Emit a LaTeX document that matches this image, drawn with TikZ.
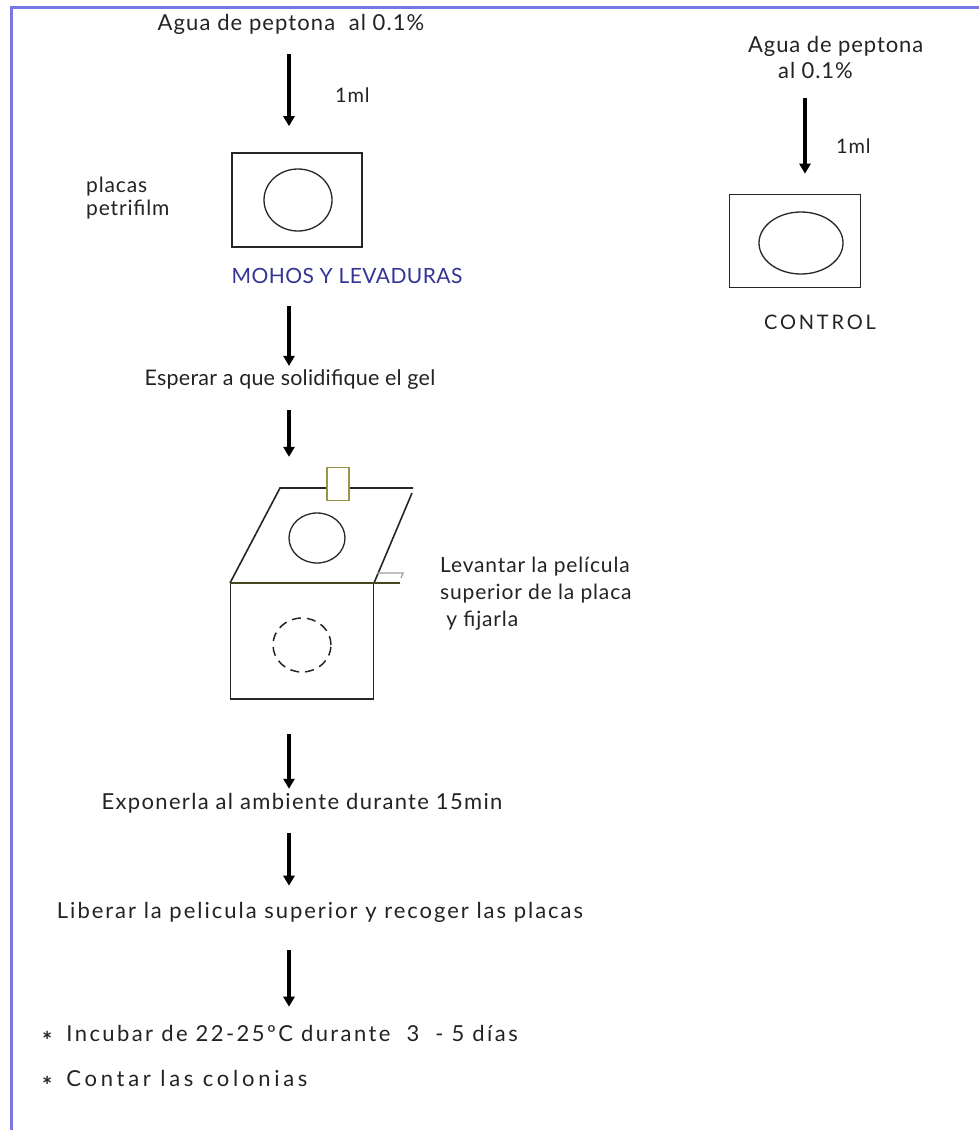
\documentclass[tikz,border=0pt]{standalone}
\usepackage{fontspec}
\setmainfont{Lato}
\usetikzlibrary{arrows.meta,shapes.geometric}
\definecolor{framec}{RGB}{118,118,228}
\definecolor{mohosc}{RGB}{52,52,150}
\definecolor{clipc}{RGB}{150,150,70}
\definecolor{edgec}{RGB}{70,70,30}
\definecolor{tabc}{RGB}{160,160,160}
\definecolor{txt}{RGB}{35,35,35}
\newcommand\fs[2]{\fontsize{#1}{27}\selectfont\addfontfeature{LetterSpace=#2}}
\tikzset{
  lbl/.style={inner sep=0pt, text=txt, font=\fs{20}{0}},
  arr/.style={line width=3.6pt, draw=black, -{Triangle[width=11pt,length=10pt]}},
  plate/.style={draw=black!85, line width=1.6pt, fill=none, inner sep=0pt},
  dish/.style={ellipse, draw=black!85, line width=1.3pt, inner sep=0pt},
  ddish/.style={dish, line width=1.5pt, dash pattern=on 9pt off 6pt},
  film/.style={draw=black!85, line width=1.6pt},
}
\newcommand\bul{\raisebox{-8pt}{\fontsize{24}{24}\selectfont\bfseries *}}
\begin{document}
\begin{tikzpicture}[x=1pt,y=-1pt]
\useasboundingbox (0,0) rectangle (979,1130);
\fill[white] (0,0) rectangle (979,1130);
% frame
\draw[framec, line width=3pt] (11,1130) -- (11,7) -- (979,7);

% column reference
\coordinate (col) at (289,0);

% ---- left column ----
\node[lbl, font=\fs{22}{5}] (t1) at (291,24) {Agua de peptona\ \ al 0.1\%};
\node[lbl, anchor=west, font=\fs{20}{4}] (ml1) at (335,95) {1ml};
\node[plate, minimum width=130pt, minimum height=94pt] (box1) at (297,200) {};
\node[dish, minimum width=68pt, minimum height=62pt] (d1) at (298,200) {};
\node[lbl, anchor=west, align=left, font={\fontsize{21}{23}\selectfont\addfontfeature{LetterSpace=4}}] (placas) at (86,198) {placas\\petrifilm};
\node[lbl, text=mohosc, font=\fs{21}{2}] (mohos) at (347,276) {MOHOS Y LEVADURAS};

\node[lbl, font=\fs{21.5}{1}] (t2) at (290,380) {Esperar a que solidifique el gel};

% lifted film drawing
\coordinate (pbl) at (230,583);
\coordinate (ptl) at (280,488);
\coordinate (ptr) at (413,488);
\coordinate (prt) at (412,493);
\coordinate (prb) at (374,583);
\coordinate (pbe) at (400,583);
\node[plate, minimum width=143pt, minimum height=116pt] (box2) at (302,641) {};
\draw[film] (pbl) -- (ptl) -- (ptr);
\draw[film] (prt) -- (prb);
\draw[edgec, line width=1.8pt] (pbl) -- (pbe);
\node[draw=clipc, fill=white, line width=1.3pt, minimum width=22pt, minimum height=33pt, inner sep=0pt] (clip) at (338,484) {};
\draw[tabc, line width=1.2pt] (377,573) -- (403,573) -- (401,578);
\node[dish, minimum width=56pt, minimum height=50pt] (d2) at (317,538) {};
\node[ddish, minimum width=58pt, minimum height=54pt] (d3) at (302,645) {};
\node[lbl, anchor=west, align=left, font={\fontsize{21}{27}\selectfont\addfontfeature{LetterSpace=4}}] (lev) at (440,594) {Levantar la película\\superior de la placa\\\ y fijarla};

\node[lbl, font=\fs{22}{6}] (t3) at (302,803) {Exponerla al ambiente durante 15min};
\node[lbl, font=\fs{22}{9}] (t4) at (320,912) {Liberar la pelicula superior y recoger las placas};
\node[lbl, anchor=west, font=\fs{22}{0}] (t5) at (42,1037) {\bul\hspace{14pt}{\addfontfeature{LetterSpace=11}Incubar de 22-25ºC durante\ \ 3\ \ -\ 5 días}};
\node[lbl, anchor=west, font=\fs{22}{0}] (t6) at (42,1082) {\bul\hspace{14pt}{\addfontfeature{LetterSpace=17}Contar las colonias}};

% arrows left column
\draw[arr, shorten <=20pt, shorten >=26pt] (t1.south -| col) -- (box1.north -| col);
\draw[arr, shorten <=22pt, shorten >=4pt] (mohos.south -| col) -- (t2.north -| col);
\draw[arr, shorten <=20pt, shorten >=10pt] (t2.south -| col) -- (clip.north -| col);
\draw[arr, shorten <=34pt, shorten >=4pt] (box2.south -| col) -- (t3.north -| col);
\draw[arr, shorten <=20pt, shorten >=16pt] (t3.south -| col) -- (t4.north -| col);
\draw[arr, shorten <=28pt, shorten >=18pt] (t4.south -| col) -- (t5.north -| col);

% ---- right column ----
\coordinate (colr) at (805,0);
\node[lbl, anchor=west, align=left, font={\fontsize{22}{26}\selectfont\addfontfeature{LetterSpace=4}}] (r1) at (748,57) {Agua de peptona\\\hspace{30pt}al 0.1\%};
\node[lbl, anchor=west, font=\fs{20}{4}] (ml2) at (836,146) {1ml};
\node[plate, minimum width=131pt, minimum height=93pt] (box3) at (795,241) {};
\node[dish, minimum width=84pt, minimum height=62pt] (d4) at (801,243) {};
\node[lbl, font=\fs{20}{14}] (ctrl) at (820,322) {CONTROL};
\draw[arr, shorten <=20pt, shorten >=20pt] (r1.south -| colr) -- (box3.north -| colr);
\end{tikzpicture}
\end{document}
